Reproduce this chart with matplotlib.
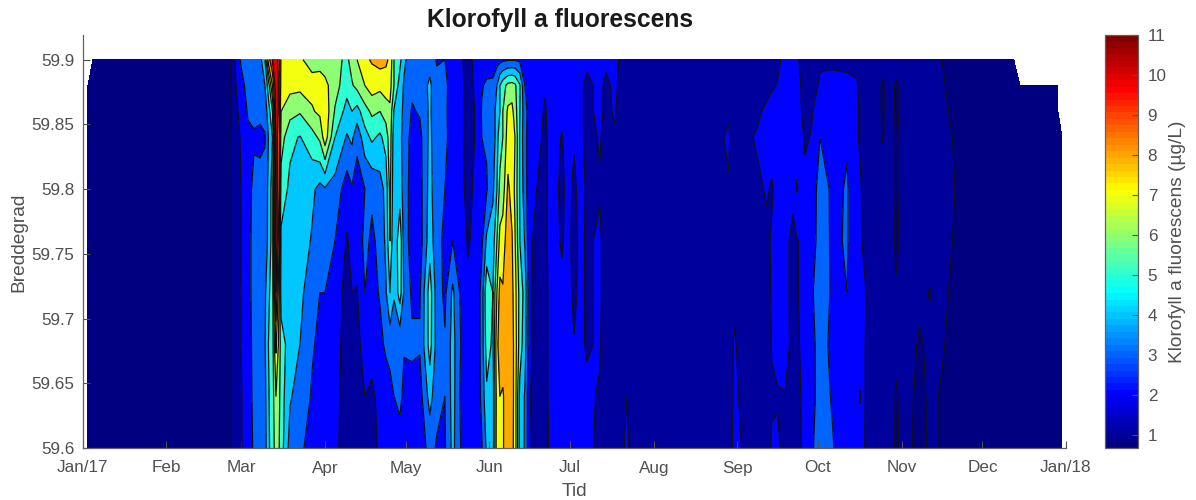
import matplotlib
matplotlib.use("Agg")
import matplotlib.pyplot as plt
import numpy as np
from matplotlib.cm import ScalarMappable
from matplotlib.colors import LinearSegmentedColormap, Normalize

plt.rcParams['font.family'] = ['Liberation Sans', 'DejaVu Sans']

n = np.nan

title = "Klorofyll a fluorescens"
xlab = "Tid"
ylab = "Breddegrad"
cblab = "Klorofyll a fluorescens (µg/L)"

month_days = [0, 31, 59, 90, 120, 151, 181, 212, 243, 273, 304, 334, 365]
month_labels = ["Jan/17", "Feb", "Mar", "Apr", "May", "Jun", "Jul", "Aug", "Sep", "Oct", "Nov", "Dec", "Jan/18"]
lat_ticks = [59.6, 59.65, 59.7, 59.75, 59.8, 59.85, 59.9]
lat_labels = ["59.6", "59.65", "59.7", "59.75", "59.8", "59.85", "59.9"]
cb_ticks = list(range(1, 12))

lats = [59.60, 59.64, 59.68, 59.72, 59.76, 59.80, 59.84, 59.86, 59.88, 59.90]

# dag i aret, en kolonne i chl per dag (sor til nord)
days = [2.0, 3.9, 28.8, 52, 55.1, 57, 58.8, 61.4, 63.6, 65.9, 67.7, 69.0, 70.5, 71.8, 73.0, 73.7,
        77, 80.7, 85.2, 88.1, 90, 93.7, 98.1, 100, 101.9, 104.8, 107.4, 110.4, 112.6, 114.1, 115.6,
        117.8, 119.3, 122.3, 125.2, 128.9, 131.5, 134.5, 137.4, 140, 143, 146.4, 148.2, 150, 152.3, 153.8,
        154.9, 156, 157.9, 159.4, 160.5, 162.3, 164.2, 166, 168.6, 171.6, 174.2,
        177.9, 180.2, 182.4, 184.6, 187.2, 192, 194.3, 197.6, 199.4, 202, 204, 229.1, 239.9, 241.7,
        250.3, 254, 255.8, 258, 260.8, 263.6, 265.1, 268.1, 270.7, 273.7, 276.6, 278.5, 283.7, 287.4, 288.6, 290.5,
        293.4, 297, 299.6, 301.9, 305.2, 310.8, 314.5, 319, 323.8, 329.3, 345.6, 347.9, 362, 363.5]

chl = [
    [.75, .75, .75, .75, .75, .75, .75, .75, .75, n],
    [.75, .75, .75, .75, .75, .75, .75, .75, .75, .75],
    [.75, .75, .75, .75, .75, .75, .75, .75, .75, .75],
    [.78, .78, .78, .78, .78, .78, .78, .78, .78, .78],
    [.95, .95, .95, .95, .95, .95, .95, .95, .95, .95],
    [1.5, 1.5, 1.5, 1.5, 1.5, 1.5, 1.6, 1.8, 2.0, 2.3],
    [1.9, 1.9, 2.0, 2.0, 1.95, 2.0, 2.1, 2.3, 2.7, 3.1],
    [2.6, 2.6, 2.7, 2.8, 2.8, 2.7, 2.8, 3.1, 3.3, 3.5],
    [3.1, 3.2, 3.2, 3.2, 3.2, 3.2, 2.9, 3.2, 3.4, 3.4],
    [3.3, 3.4, 3.6, 3.9, 3.6, 3.3, 2.8, 3.2, 3.3, 3.6],
    [3.6, 3.7, 3.9, 3.8, 3.5, 3.4, 2.9, 3.4, 4.0, 5.0],
    [4.8, 4.9, 5.0, 4.8, 4.2, 4.2, 4.0, 4.5, 5.5, 8.5],
    [5.5, 5.5, 5.5, 5.5, 5.5, 5.5, 5.0, 6.0, 8.0, 10.0],
    [6.5, 7.0, 8.2, 10.0, 11.0, 10.5, 10.3, 10.6, 10.8, 10.5],
    [6.0, 6.2, 6.6, 7.0, 8.0, 9.0, 9.6, 9.7, 9.7, 9.6],
    [5.5, 5.5, 5.5, 4.5, 4.8, 5.5, 6.5, 7.0, 7.6, 7.8],
    [3.6, 4.1, 4.5, 4.6, 4.7, 4.8, 5.2, 6.4, 7.3, 7.6],
    [3.2, 3.6, 4.0, 4.3, 4.6, 4.8, 4.95, 6.1, 7.3, 7.1],
    [2.6, 2.9, 3.1, 3.3, 3.9, 4.2, 5.6, 6.9, 7.3, 6.7],
    [2.4, 2.6, 2.8, 3.0, 3.3, 3.7, 6.2, 7.2, 7.6, 6.5],
    [2.7, 2.8, 2.9, 3.0, 3.1, 3.9, 7.6, 7.7, 7.3, 6.4],
    [2.3, 2.4, 2.5, 2.6, 3.0, 3.6, 5.0, 5.9, 6.4, 6.3],
    [1.4, 1.4, 1.5, 1.6, 1.9, 2.5, 3.9, 4.6, 5.4, 5.8],
    [1.7, 1.8, 1.9, 2.0, 2.3, 2.9, 4.2, 5.0, 5.9, 6.4],
    [1.5, 1.6, 1.8, 1.95, 2.3, 2.5, 3.3, 4.6, 6.3, 7.0],
    [1.6, 2.0, 2.3, 3.0, 3.3, 3.0, 4.6, 5.6, 7.0, 7.8],
    [1.8, 1.8, 2.4, 2.6, 2.8, 3.2, 5.2, 6.2, 7.5, 8.1],
    [2.1, 2.3, 2.7, 3.1, 3.3, 3.6, 4.8, 6.0, 7.3, 8.4],
    [2.0, 2.4, 3.2, 3.9, 4.2, 4.3, 5.4, 6.5, 7.5, 8.2],
    [2.2, 2.6, 3.4, 5.0, 6.0, 6.3, 6.6, 6.8, 7.4, 7.8],
    [2.2, 3.0, 3.4, 4.1, 4.0, 4.2, 4.4, 4.9, 6.0, 6.0],
    [2.0, 3.6, 3.2, 5.5, 5.8, 4.5, 4.2, 4.3, 4.5, 5.3],
    [2.1, 2.4, 3.2, 3.9, 3.6, 3.6, 3.7, 3.8, 3.9, 4.2],
    [2.5, 2.6, 3.2, 2.8, 2.5, 2.5, 2.6, 2.9, 3.2, 3.4],
    [2.5, 2.6, 3.1, 2.9, 2.5, 2.6, 2.7, 3.1, 3.4, 3.4],
    [3.3, 4.4, 5.4, 5.5, 4.6, 4.4, 4.3, 4.2, 4.2, 3.6],
    [2.9, 3.3, 3.6, 3.5, 3.3, 3.2, 3.1, 3.2, 3.3, 2.9],
    [2.9, 3.0, 3.1, 2.8, 2.8, 3.0, 3.2, 3.2, 3.2, 3.0],
    [4.3, 4.4, 4.4, 4.2, 3.0, 2.6, 2.6, 2.5, 2.6, 2.5],
    [3.1, 3.0, 3.1, 3.0, 2.8, 2.4, 2.3, 2.3, 2.3, 2.2],
    [2.3, 2.3, 2.3, 2.2, 1.9, 1.7, 1.7, 1.7, 1.7, 1.7],
    [2.3, 2.3, 2.3, 2.3, 2.3, 2.3, 2.1, 2.1, 2.2, 2.3],
    [2.9, 3.3, 3.4, 3.4, 2.8, 2.4, 3.0, 3.1, 2.9, 2.3],
    [4.2, 4.8, 5.5, 5.8, 4.2, 2.9, 3.1, 3.3, 3.2, 2.4],
    [4.5, 4.5, 4.8, 5.0, 4.5, 3.8, 3.2, 3.2, 3.2, 2.5],
    [7.6, 7.5, 7.8, 7.0, 6.0, 5.0, 4.7, 4.7, 4.0, 2.6],
    [7.7, 8.0, 8.4, 8.3, 7.3, 6.3, 5.5, 5.0, 5.0, 2.7],
    [7.9, 7.9, 8.5, 8.1, 7.5, 6.5, 6.0, 6.0, 5.6, 2.8],
    [8.6, 8.6, 8.9, 8.9, 8.6, 8.2, 7.5, 7.2, 6.3, 2.9],
    [8.3, 8.4, 8.4, 8.3, 8.1, 7.6, 7.7, 7.3, 6.4, 2.9],
    [7.6, 7.6, 7.6, 7.4, 7.1, 6.8, 7.0, 6.5, 6.2, 2.9],
    [4.6, 4.7, 5.5, 5.6, 5.0, 4.9, 4.9, 5.0, 5.1, 2.8],
    [3.9, 3.9, 4.4, 4.6, 3.9, 3.4, 3.2, 3.3, 3.0, 2.5],
    [2.1, 2.05, 2.2, 2.2, 2.2, 2.3, 2.6, 2.6, 2.6, 2.2],
    [1.6, 1.6, 1.6, 1.6, 1.7, 2.0, 2.3, 2.4, 2.4, 2.3],
    [1.5, 1.7, 1.7, 1.7, 1.8, 1.8, 1.8, 1.9, 2.1, 2.3],
    [2.4, 2.4, 2.4, 2.4, 2.4, 2.4, 2.4, 2.4, 2.4, 2.4],
    [2.4, 2.3, 2.3, 2.2, 1.9, 1.8, 1.95, 2.2, 2.3, 2.3],
    [2.3, 2.3, 2.3, 2.3, 2.3, 2.3, 2.3, 2.3, 2.3, 2.3],
    [2.3, 2.3, 2.05, 1.8, 1.7, 1.8, 2.1, 2.3, 2.3, 2.3],
    [2.3, 2.3, 2.1, 2.2, 2.2, 2.3, 2.2, 2.2, 2.2, 2.3],
    [2.1, 2.1, 1.95, 1.9, 1.9, 1.9, 1.8, 1.8, 1.8, 2.2],
    [1.9, 1.95, 2.05, 2.1, 2.1, 1.95, 2.05, 2.2, 2.2, 2.3],
    [1.6, 1.7, 1.7, 1.7, 1.7, 1.7, 1.8, 1.8, 1.8, 2.2],
    [1.5, 1.5, 1.5, 1.5, 1.5, 1.6, 1.9, 2.1, 2.2, 2.3],
    [1.5, 1.5, 1.5, 1.5, 1.5, 1.5, 1.6, 1.7, 1.8, 1.9],
    [2.3, 2.0, 1.8, 1.5, 1.5, 1.5, 1.5, 1.5, 1.5, 1.6],
    [1.5, 1.5, 1.5, 1.5, 1.5, 1.5, 1.5, 1.5, 1.5, 1.5],
    [1.5, 1.5, 1.5, 1.5, 1.5, 1.5, 1.5, 1.5, 1.5, 1.5],
    [1.5, 1.5, 1.5, 1.5, 1.5, 1.95, 2.1, 1.9, 1.5, 1.5],
    [2.2, 2.1, 2.05, 1.9, 1.5, 1.5, 1.5, 1.5, 1.5, 1.5],
    [1.6, 1.6, 1.6, 1.6, 1.6, 1.8, 2.1, 1.8, 1.6, 1.6],
    [1.6, 1.6, 1.6, 1.6, 1.8, 2.1, 2.4, 2.2, 1.7, 1.6],
    [2.1, 1.9, 2.05, 2.1, 2.1, 1.9, 2.4, 2.3, 1.9, 1.7],
    [2.1, 1.95, 2.2, 2.3, 2.3, 2.3, 2.4, 2.3, 2.05, 1.8],
    [1.8, 1.95, 2.4, 2.3, 2.4, 2.5, 2.6, 2.6, 2.6, 2.3],
    [1.6, 1.6, 1.7, 1.7, 1.6, 2.4, 2.5, 2.6, 2.7, 2.5],
    [1.6, 1.6, 1.8, 1.9, 1.9, 3.1, 2.6, 2.4, 2.3, 2.1],
    [2.3, 2.4, 2.4, 2.4, 2.4, 2.2, 1.9, 1.7, 1.7, 1.7],
    [2.9, 2.7, 2.8, 2.9, 2.6, 2.5, 2.05, 1.95, 1.7, 1.6],
    [3.4, 3.4, 3.3, 3.5, 3.4, 3.4, 3.0, 2.4, 2.1, 1.9],
    [3.4, 3.1, 3.0, 3.2, 3.1, 3.1, 2.4, 2.4, 2.3, 1.8],
    [3.05, 2.9, 2.8, 2.7, 2.8, 2.7, 2.4, 2.4, 2.3, 1.8],
    [2.3, 2.3, 2.4, 3.0, 3.1, 3.1, 2.9, 2.4, 2.2, 1.8],
    [2.2, 2.2, 2.2, 2.2, 2.2, 2.2, 2.1, 2.1, 2.1, 1.7],
    [2.4, 3.1, 2.3, 2.2, 2.1, 2.1, 1.9, 1.9, 1.8, 1.5],
    [1.95, 2.0, 2.0, 2.05, 1.8, 1.7, 1.5, 1.5, 1.5, 1.5],
    [1.5, 1.5, 1.5, 1.5, 1.5, 1.5, 1.5, 1.5, 1.5, 1.5],
    [1.4, 1.4, 1.4, 1.4, 1.4, 1.4, .95, .9, .9, 1.3],
    [1.4, 1.4, 1.4, 1.4, 1.4, 1.4, 1.4, 1.4, 1.4, 1.4],
    [.9, .95, 1.1, 1.05, .9, .95, .95, .9, .9, 1.3],
    [1.2, 1.2, 1.2, 1.2, 1.2, 1.2, 1.2, 1.2, 1.2, 1.1],
    [.8, .85, .95, 1.1, 1.2, 1.2, 1.2, 1.2, 1.2, 1.2],
    [1.1, 1.1, 1.1, .98, 1.2, 1.2, 1.2, 1.2, 1.2, 1.2],
    [.95, .95, 1.05, 1.15, 1.2, 1.2, 1.2, 1.1, 1.05, 1.0],
    [.8, .8, .82, .85, .95, 1.0, .95, .9, .85, .8],
    [.75, .75, .75, .75, .75, .75, .75, .75, .75, .75],
    [.75, .75, .75, .75, .75, .75, .75, .75, .75, .75],
    [.75, .75, .75, .75, .75, .75, .75, .75, .75, n],
    [.75, .75, .75, .75, .75, .75, .75, .75, .75, n],
    [.75, .75, .75, .75, .75, .75, .75, n, n, n],
]

vmin, vmax = 0.68, 11
levels = [vmin] + list(range(1, 12))

Z = np.ma.masked_invalid(np.array(chl).T)
X, Y = np.meshgrid(days, lats)

W, H = 1196, 500
fig = plt.figure(figsize=(W / 100, H / 100), dpi=100)
ax = fig.add_axes([82.5 / W, 52 / H, (1066 - 82.5) / W, 413 / H])

# jet som i matlab, gul ligger ved 5/8
jet_pts = [(0, (0, 0, .5)), (.125, (0, 0, 1)), (.375, (0, 1, 1)), (.625, (1, 1, 0)), (.875, (1, 0, 0)), (1, (.5, 0, 0))]
smooth = LinearSegmentedColormap.from_list('mjet', jet_pts, N=256)
cmap = LinearSegmentedColormap.from_list('mjet64', jet_pts, N=64)
norm = Normalize(vmin, vmax)
fill_colors = [smooth(norm(v)) for v in levels[:-1]]
ax.contourf(X, Y, Z, levels=levels, colors=fill_colors)
ax.contour(X, Y, Z, levels=levels[1:], colors='#101010', linewidths=0.9)

grey = '#505050'
ax.set_xlim(0, 365)
ax.set_ylim(59.6, 59.919)
ax.set_xticks(month_days)
ax.set_xticklabels(month_labels)
ax.set_yticks(lat_ticks)
ax.set_yticklabels(lat_labels)
ax.tick_params(direction='in', length=5, width=0.8, colors=grey, labelsize=12.3)
ax.tick_params(axis='x', pad=9)
ax.tick_params(axis='y', pad=6)
ax.spines['top'].set_visible(False)
ax.spines['right'].set_visible(False)
for s in ['left', 'bottom']:
    ax.spines[s].set_color('#606060')
    ax.spines[s].set_linewidth(0.9)
fig.text(574 / W, 1 - 491 / H, xlab, fontsize=13.8, color=grey, ha='center', va='center')
fig.text(19 / W, 1 - 242 / H, ylab, fontsize=13.8, color=grey, ha='center', va='center', rotation=90)
fig.text(560 / W, 1 - 20 / H, title, fontsize=17.7, fontweight='bold', color='#1a1a1a', ha='center', va='center')

cax = fig.add_axes([1105 / W, 52 / H, 33 / W, 413 / H])
cb = fig.colorbar(ScalarMappable(norm=norm, cmap=cmap), cax=cax, ticks=cb_ticks)
cb.ax.tick_params(direction='in', length=4, width=0.8, colors=grey, labelsize=12.3, pad=7)
cb.outline.set_edgecolor('#606060')
cb.outline.set_linewidth(0.9)
fig.text(1178 / W, 1 - 242 / H, cblab, fontsize=13.8, color=grey, ha='center', va='center', rotation=90)

fig.savefig('out.png', dpi=100)
